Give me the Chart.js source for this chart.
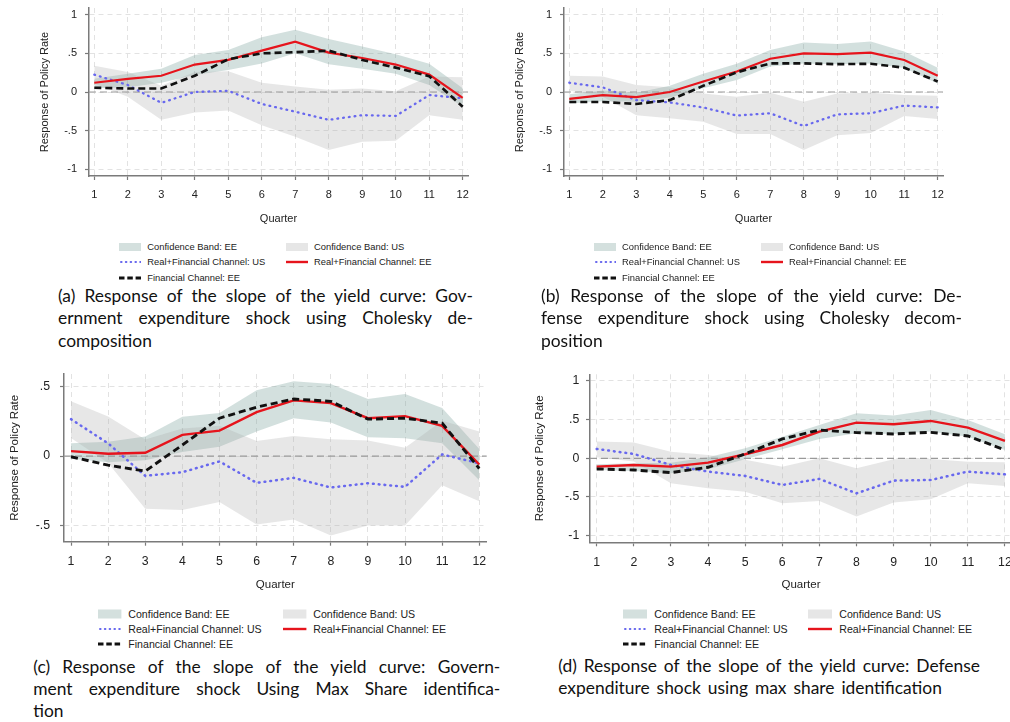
<!DOCTYPE html>
<html>
<head>
<meta charset="utf-8">
<script src="https://cdn.jsdelivr.net/npm/chart.js@4.4.1/dist/chart.umd.min.js"></script>
<style>
  html, body { margin: 0; padding: 0; width: 1010px; height: 722px; overflow: hidden; background: #fff; }
  canvas { position: absolute; }
  .leg { position: absolute; font-family: "Liberation Sans", Arial, sans-serif; color: #222; white-space: nowrap; }
  .leg svg { position: absolute; }
  .cap { position: absolute; font-family: Lato, "Open Sans", sans-serif; color: #111; white-space: nowrap;
         line-height: 22px; font-size: 17.4px; word-spacing: 2.5px; }
  .cap.just { text-align: justify; text-align-last: justify; }
</style>
</head>
<body>
<canvas id="pA" width="480" height="232" style="left:0;top:0"></canvas>
<canvas id="pB" width="480" height="232" style="left:475px;top:0"></canvas>
<canvas id="pC" width="500" height="240" style="left:0;top:360px"></canvas>
<canvas id="pD" width="495" height="240" style="left:530px;top:360px"></canvas>
<div id="overlay"></div>
<script>
// ---- axis content ----
const quarters = [1, 2, 3, 4, 5, 6, 7, 8, 9, 10, 11, 12];
const yTicksWide = [-1, -0.5, 0, 0.5, 1];
const yLabelsWide = ['-1', '-.5', '0', '.5', '1'];
const yTicksNarrow = [-0.5, 0, 0.5];
const yLabelsNarrow = ['-.5', '0', '.5'];
const xTitle = 'Quarter';
const yTitle = 'Response of Policy Rate';
const legendLabels = ['Confidence Band: EE', 'Confidence Band: US',
  'Real+Financial Channel: US', 'Real+Financial Channel: EE', 'Financial Channel: EE'];

// ---- (a) government expenditure shock, Cholesky ----
const aRealFinEE = [0.12, 0.17, 0.21, 0.355, 0.415, 0.535, 0.65, 0.51, 0.44, 0.355, 0.225, -0.075];
const aFinEE     = [0.055, 0.045, 0.045, 0.21, 0.425, 0.50, 0.515, 0.535, 0.415, 0.315, 0.205, -0.19];
const aRealFinUS = [0.225, 0.09, -0.14, 0.0, 0.015, -0.155, -0.255, -0.36, -0.30, -0.31, -0.04, -0.08];
const aBandEEHi  = [0.17, 0.235, 0.30, 0.48, 0.545, 0.71, 0.805, 0.685, 0.59, 0.49, 0.365, 0.05];
const aBandEELo  = [0.05, 0.06, 0.12, 0.22, 0.285, 0.37, 0.50, 0.36, 0.30, 0.235, 0.09, -0.19];
const aBandUSHi  = [0.34, 0.26, 0.08, 0.26, 0.27, 0.12, 0.07, 0.03, 0.045, 0.01, 0.20, 0.19];
const aBandUSLo  = [0.11, -0.06, -0.36, -0.265, -0.24, -0.43, -0.58, -0.75, -0.645, -0.63, -0.30, -0.36];

// ---- (b) defense expenditure shock, Cholesky ----
const bRealFinEE = [-0.09, -0.04, -0.065, 0.0, 0.135, 0.265, 0.43, 0.50, 0.49, 0.51, 0.415, 0.21];
const bFinEE     = [-0.13, -0.13, -0.155, -0.105, 0.08, 0.255, 0.37, 0.37, 0.36, 0.365, 0.315, 0.135];
const bRealFinUS = [0.12, 0.06, -0.105, -0.135, -0.20, -0.305, -0.275, -0.44, -0.29, -0.275, -0.175, -0.20];
const bBandEEHi  = [-0.03, 0.02, -0.01, 0.08, 0.235, 0.365, 0.545, 0.64, 0.62, 0.655, 0.525, 0.315];
const bBandEELo  = [-0.15, -0.12, -0.125, -0.07, 0.05, 0.155, 0.33, 0.37, 0.36, 0.37, 0.31, 0.11];
const bBandUSHi  = [0.21, 0.20, 0.09, 0.06, -0.02, -0.06, -0.01, -0.125, -0.02, -0.01, -0.04, -0.05];
const bBandUSLo  = [0.02, -0.06, -0.30, -0.34, -0.385, -0.545, -0.545, -0.75, -0.56, -0.53, -0.31, -0.35];

// ---- (c) government expenditure shock, max share ----
const cRealFinEE = [0.036, 0.017, 0.024, 0.153, 0.184, 0.318, 0.403, 0.383, 0.274, 0.289, 0.218, -0.061];
const cFinEE     = [-0.005, -0.066, -0.109, 0.08, 0.274, 0.354, 0.413, 0.396, 0.267, 0.274, 0.238, -0.09];
const cRealFinUS = [0.267, 0.092, -0.143, -0.117, -0.039, -0.194, -0.158, -0.228, -0.197, -0.223, 0.012, -0.053];
const cBandEEHi  = [0.092, 0.104, 0.141, 0.284, 0.311, 0.476, 0.541, 0.522, 0.413, 0.449, 0.347, 0.051];
const cBandEELo  = [-0.02, -0.045, -0.03, 0.03, 0.068, 0.177, 0.274, 0.243, 0.136, 0.129, 0.092, -0.175];
const cBandUSHi  = [0.396, 0.286, 0.12, 0.20, 0.22, 0.109, 0.146, 0.121, 0.112, 0.061, 0.255, 0.177];
const cBandUSLo  = [0.13, -0.05, -0.381, -0.39, -0.333, -0.495, -0.459, -0.575, -0.502, -0.502, -0.211, -0.328];

// ---- (d) defense expenditure shock, max share ----
const dRealFinEE = [-0.108, -0.086, -0.108, -0.056, 0.052, 0.172, 0.345, 0.461, 0.44, 0.483, 0.397, 0.224];
const dFinEE     = [-0.138, -0.151, -0.185, -0.116, 0.056, 0.25, 0.366, 0.332, 0.315, 0.336, 0.289, 0.108];
const dRealFinUS = [0.121, 0.056, -0.086, -0.172, -0.228, -0.345, -0.267, -0.453, -0.289, -0.28, -0.172, -0.207];
const dBandEEHi  = [-0.078, -0.065, -0.056, 0.013, 0.129, 0.28, 0.431, 0.582, 0.552, 0.625, 0.496, 0.31];
const dBandEELo  = [-0.151, -0.164, -0.194, -0.142, -0.013, 0.116, 0.25, 0.323, 0.315, 0.345, 0.28, 0.108];
const dBandUSHi  = [0.216, 0.203, 0.086, 0.043, -0.02, -0.108, 0.0, -0.129, -0.013, -0.009, -0.043, -0.052];
const dBandUSLo  = [0.013, -0.04, -0.323, -0.388, -0.431, -0.582, -0.552, -0.754, -0.573, -0.53, -0.323, -0.358];

// ---- captions ----
const capA = ['(a) Response of the slope of the yield curve: Gov-', 'ernment expenditure shock using Cholesky de-', 'composition'];
const capB = ['(b) Response of the slope of the yield curve: De-', 'fense expenditure shock using Cholesky decom-', 'position'];
const capC = ['(c) Response of the slope of the yield curve: Govern-', 'ment expenditure shock Using Max Share identifica-', 'tion'];
const capD = ['(d) Response of the slope of the yield curve: Defense', 'expenditure shock using max share identification'];

// ---- styling ----
const AXIS_FONT = '"Liberation Sans", Arial, Helvetica, sans-serif';
const EE_FILL = 'rgba(120,160,156,0.33)';
const US_FILL = 'rgba(170,170,170,0.28)';
const EE_SWATCH = '#d4e0de';
const US_SWATCH = '#e6e6e6';
const RED = '#e6141c';
const BLUE = '#6868ee';
const BLACK = '#111111';
const GRID = '#e2e2e2';
const AXIS = '#7a7a7a';

// dashed reference line at zero
const zeroLine = {
  id: 'zeroLine',
  beforeDatasetsDraw(chart) {
    const { ctx, chartArea, scales } = chart;
    const py = scales.y.getPixelForValue(0);
    ctx.save();
    ctx.strokeStyle = '#9a9a9a';
    ctx.lineWidth = 1.2;
    ctx.setLineDash([7, 4]);
    ctx.beginPath();
    ctx.moveTo(chartArea.left, py);
    ctx.lineTo(chartArea.right, py);
    ctx.stroke();
    ctx.restore();
  }
};

function makeChart(id, s, g) {
  const pts = arr => quarters.map((q, i) => ({ x: q, y: arr[i] }));
  const band = (arr, fill, color, order) => ({
    data: pts(arr), fill: fill, backgroundColor: color, borderColor: 'transparent',
    borderWidth: 0, pointRadius: 0, order: order
  });
  const tickFont = { family: AXIS_FONT, size: g.tickSize };
  const titleFont = { family: AXIS_FONT, size: g.titleSize };
  // keep the plot area exactly where the layout puts it (no label-overflow padding)
  const noPad = sc => { sc.paddingTop = 0; sc.paddingBottom = 0; sc.paddingLeft = 0; sc.paddingRight = 0; };
  return new Chart(document.getElementById(id), {
    type: 'line',
    data: {
      datasets: [
        band(s.eeHi, '+1', EE_FILL, 6),
        band(s.eeLo, false, 'transparent', 5),
        band(s.usHi, '+1', US_FILL, 4),
        band(s.usLo, false, 'transparent', 3),
        { data: pts(s.us), borderColor: BLUE, borderWidth: g.lw * 1.05, borderDash: [0.8, 5],
          borderCapStyle: 'round', pointRadius: 0, fill: false, order: 2 },
        { data: pts(s.ee), borderColor: RED, borderWidth: g.lw, pointRadius: 0, fill: false, order: 1 },
        { data: pts(s.fin), borderColor: BLACK, borderWidth: g.lw * 1.2, borderDash: [7, 4],
          pointRadius: 0, fill: false, order: 0 }
      ]
    },
    options: {
      responsive: false, animation: false, devicePixelRatio: 1,
      layout: { padding: { top: g.padTop, right: g.padRight, left: 0, bottom: 0 } },
      elements: { line: { tension: 0 } },
      plugins: { legend: { display: false }, tooltip: { enabled: false },
                 filler: { drawTime: 'beforeDatasetsDraw' } },
      scales: {
        x: {
          type: 'linear', min: g.xMin, max: g.xMax,
          afterBuildTicks: sc => { sc.ticks = quarters.map(v => ({ value: v })); },
          afterFit: sc => { sc.height = g.xH; noPad(sc); },
          grid: { color: GRID, lineWidth: 1, drawTicks: true, tickLength: 4, tickColor: AXIS,
                  tickWidth: 1.2, tickBorderDash: [] },
          border: { display: true, color: AXIS, width: 1.5, dash: [5, 4] },
          ticks: { font: tickFont, color: '#222', padding: g.xTickPad, maxRotation: 0, autoSkip: false,
                   callback: v => String(v) },
          title: { display: true, text: xTitle, font: titleFont, color: '#222',
                   padding: { top: 0, bottom: g.xTitlePad } }
        },
        y: {
          min: g.yMin, max: g.yMax,
          afterBuildTicks: sc => { sc.ticks = g.yTicks.map(v => ({ value: v })); },
          afterFit: sc => { sc.width = g.yW; noPad(sc); },
          grid: { color: GRID, lineWidth: 1, drawTicks: true, tickLength: 4, tickColor: AXIS,
                  tickWidth: 1.2, tickBorderDash: [] },
          border: { display: true, color: AXIS, width: 1.5, dash: [5, 4] },
          ticks: { font: tickFont, color: '#222', padding: g.yTickPad,
                   callback: v => g.yLabels[g.yTicks.indexOf(v)] },
          title: { display: true, text: yTitle, font: titleFont, color: '#222',
                   padding: { top: g.yTitlePad, bottom: 0 } }
        }
      }
    },
    plugins: [zeroLine]
  });
}

const geomTop = { padTop: 8, padRight: 12, yW: 89, xH: 56, xMin: 0.842, xMax: 12.158,
  yMin: -1.087, yMax: 1.087, yTicks: yTicksWide, yLabels: yLabelsWide,
  tickSize: 11, titleSize: 11, lw: 2.2, xTickPad: 8, yTickPad: 8, yTitlePad: 38.4, xTitlePad: 6.4 };

makeChart('pA', { ee: aRealFinEE, fin: aFinEE, us: aRealFinUS, eeHi: aBandEEHi, eeLo: aBandEELo,
  usHi: aBandUSHi, usLo: aBandUSLo }, geomTop);
makeChart('pB', { ee: bRealFinEE, fin: bFinEE, us: bRealFinUS, eeHi: bBandEEHi, eeLo: bBandEELo,
  usHi: bBandUSHi, usLo: bBandUSLo }, geomTop);
makeChart('pC', { ee: cRealFinEE, fin: cFinEE, us: cRealFinUS, eeHi: cBandEEHi, eeLo: cBandEELo,
  usHi: cBandUSHi, usLo: cBandUSLo },
  { padTop: 14, padRight: 13.3, yW: 64, xH: 58.3, xMin: 0.811, xMax: 12.2,
    yMin: -0.62, yMax: 0.594, yTicks: yTicksNarrow, yLabels: yLabelsNarrow,
    tickSize: 12.3, titleSize: 11.5, lw: 2.4, xTickPad: 9, yTickPad: 10, yTitlePad: 8.1, xTitlePad: 8.1 });
makeChart('pD', { ee: dRealFinEE, fin: dFinEE, us: dRealFinUS, eeHi: dBandEEHi, eeLo: dBandEELo,
  usHi: dBandUSHi, usLo: dBandUSLo },
  { padTop: 14.3, padRight: 13, yW: 60, xH: 57.7, xMin: 0.82, xMax: 12.19,
    yMin: -1.086, yMax: 1.086, yTicks: yTicksWide, yLabels: yLabelsWide,
    tickSize: 12.3, titleSize: 11.5, lw: 2.4, xTickPad: 9, yTickPad: 6.7, yTitlePad: 3.1, xTitlePad: 8.1 });

// ---- legends (HTML) ----
const overlay = document.getElementById('overlay');
function swatch(kind, w, h) {
  const H = 12, m = H / 2;
  let inner;
  if (kind === 'ee') inner = `<rect x="0" y="${m - h / 2}" width="${w}" height="${h}" fill="${EE_SWATCH}"/>`;
  else if (kind === 'us') inner = `<rect x="0" y="${m - h / 2}" width="${w}" height="${h}" fill="${US_SWATCH}"/>`;
  else if (kind === 'blue') inner = `<line x1="2" y1="${m}" x2="${w}" y2="${m}" stroke="${BLUE}" stroke-width="2" stroke-linecap="round" stroke-dasharray="0.6 4.2"/>`;
  else if (kind === 'red') inner = `<line x1="0" y1="${m}" x2="${w}" y2="${m}" stroke="${RED}" stroke-width="2.4"/>`;
  else inner = `<line x1="0" y1="${m}" x2="${w}" y2="${m}" stroke="${BLACK}" stroke-width="2.8" stroke-dasharray="5.5 2.8"/>`;
  return `<svg width="${w}" height="${H}" style="left:0;top:0">${inner}</svg>`;
}
function legend(g) {
  const items = [
    { col: 0, row: 0, kind: 'ee', text: legendLabels[0] },
    { col: 1, row: 0, kind: 'us', text: legendLabels[1] },
    { col: 0, row: 1, kind: 'blue', text: legendLabels[2] },
    { col: 1, row: 1, kind: 'red', text: legendLabels[3] },
    { col: 0, row: 2, kind: 'black', text: legendLabels[4] }
  ];
  items.forEach(it => {
    const d = document.createElement('div');
    d.className = 'leg';
    const x = it.col === 0 ? g.x1 : g.x2;
    d.style.left = x + 'px';
    d.style.top = (g.rows[it.row] - 6) + 'px';
    d.style.height = '12px';
    d.innerHTML = swatch(it.kind, g.sw, g.sh) +
      `<span style="position:absolute;left:${g.tx}px;top:0;line-height:12px;font-size:${g.fs}px">${it.text}</span>`;
    overlay.appendChild(d);
  });
}
legend({ x1: 119.3, x2: 286, sw: 22, sh: 8, tx: 28, rows: [246.7, 262.3, 277.7], fs: 9.4 });
legend({ x1: 594, x2: 761, sw: 22, sh: 8, tx: 28, rows: [246.7, 262.3, 277.7], fs: 9.4 });
legend({ x1: 98.3, x2: 283.3, sw: 23.4, sh: 9, tx: 30, rows: [614, 629, 643.5], fs: 10.6 });
legend({ x1: 623.3, x2: 808.3, sw: 24, sh: 9, tx: 31, rows: [614, 629, 643.7], fs: 10.6 });

// ---- captions (HTML, justified like the typeset text) ----
function caption(lines, left, width, centers) {
  lines.forEach((t, i) => {
    const d = document.createElement('div');
    d.className = 'cap' + (i < lines.length - 1 ? ' just' : '');
    d.style.left = left + 'px';
    d.style.width = width + 'px';
    d.style.top = (centers[i] - 12) + 'px';
    d.textContent = t;
    overlay.appendChild(d);
  });
}
caption(capA, 58, 415, [296.7, 319.3, 341.7]);
caption(capB, 541, 421, [296.7, 319.3, 341.7]);
caption(capC, 33.3, 467, [668.3, 690, 711.7]);
caption(capD, 558.3, 420, [667.3, 689.3]);
</script>
</body>
</html>
